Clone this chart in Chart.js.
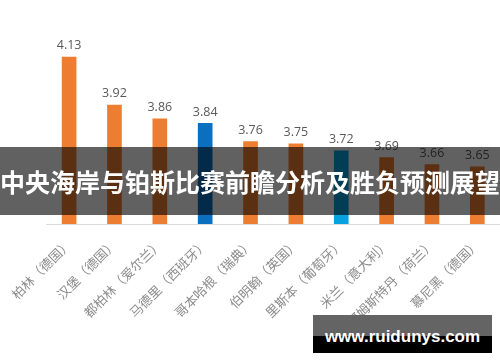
<!DOCTYPE html>
<html>
<head>
<meta charset="utf-8">
<script src="https://cdn.jsdelivr.net/npm/chart.js@4.4.1/dist/chart.umd.min.js"></script>
<style>
  html, body { margin: 0; padding: 0; background: #fff; }
  #wrap { position: relative; width: 500px; height: 362px; overflow: hidden; }
  #band {
    position: absolute; left: 0; top: 147px; width: 500px; height: 68px;
    background: rgba(0, 0, 0, 0.62);
    color: #fff; font: bold 25px "Noto Sans CJK SC", sans-serif;
    line-height: 68px; text-align: center; white-space: nowrap;
  }
  #mark {
    position: absolute; left: 313px; top: 315px; width: 179px; height: 38px;
    background: linear-gradient(#646464 0, #646464 21px, #000 21px, #000 100%);
    color: #fff; font: bold 17px "Liberation Sans", Arial, sans-serif;
    line-height: 44px; text-align: center; white-space: nowrap;
  }
</style>
</head>
<body>
<div id="wrap">
  <canvas id="chart" width="500" height="362"></canvas>
  <div id="band">中央海岸与铂斯比赛前瞻分析及胜负预测展望</div>
  <div id="mark">www.ruidunys.com</div>
</div>
<script>
const cities = ['柏林（德国）', '汉堡（德国）', '都柏林（爱尔兰）', '马德里（西班牙）', '哥本哈根（瑞典）',
  '伯明翰（英国）', '里斯本（葡萄牙）', '米兰（意大利）', '阿姆斯特丹（荷兰）', '慕尼黑（德国）'];
const scores = [4.13, 3.92, 3.86, 3.84, 3.76, 3.75, 3.72, 3.69, 3.66, 3.65];
const barColors = ['#ED7D31', '#ED7D31', '#ED7D31', '#0A6FBF', '#ED7D31',
  '#ED7D31', '#05A2DF', '#ED7D31', '#ED7D31', '#ED7D31'];

// value labels above each bar
const valueLabels = {
  id: 'valueLabels',
  afterDatasetsDraw(chart) {
    const ctx = chart.ctx;
    const meta = chart.getDatasetMeta(0);
    ctx.save();
    ctx.font = '12.5px "Open Sans", sans-serif';
    ctx.fillStyle = '#595959';
    ctx.textAlign = 'center';
    ctx.textBaseline = 'bottom';
    meta.data.forEach((bar, i) => {
      ctx.fillText(scores[i].toFixed(2), bar.x, bar.y - 5);
    });
    ctx.restore();
  }
};

new Chart(document.getElementById('chart'), {
  type: 'bar',
  data: {
    labels: cities,
    datasets: [{
      data: scores,
      backgroundColor: barColors,
      barThickness: 14
    }]
  },
  options: {
    responsive: false,
    animation: false,
    layout: { padding: { left: 39, right: 0, top: 41, bottom: 0 } },
    plugins: { legend: { display: false }, tooltip: { enabled: false } },
    scales: {
      x: {
        grid: { color: 'rgba(0,0,0,0)', drawTicks: false },
        border: { display: true, color: '#d9d9d9', width: 1 },
        ticks: {
          minRotation: 45, maxRotation: 45, padding: 12,
          color: '#8c8c8c',
          font: { size: 13, family: '"Noto Sans CJK SC", sans-serif' }
        },
        afterFit(scale) { scale.height = 138; }
      },
      y: {
        display: false,
        min: 3.4,
        max: 4.2
      }
    }
  },
  plugins: [valueLabels]
});
</script>
</body>
</html>
